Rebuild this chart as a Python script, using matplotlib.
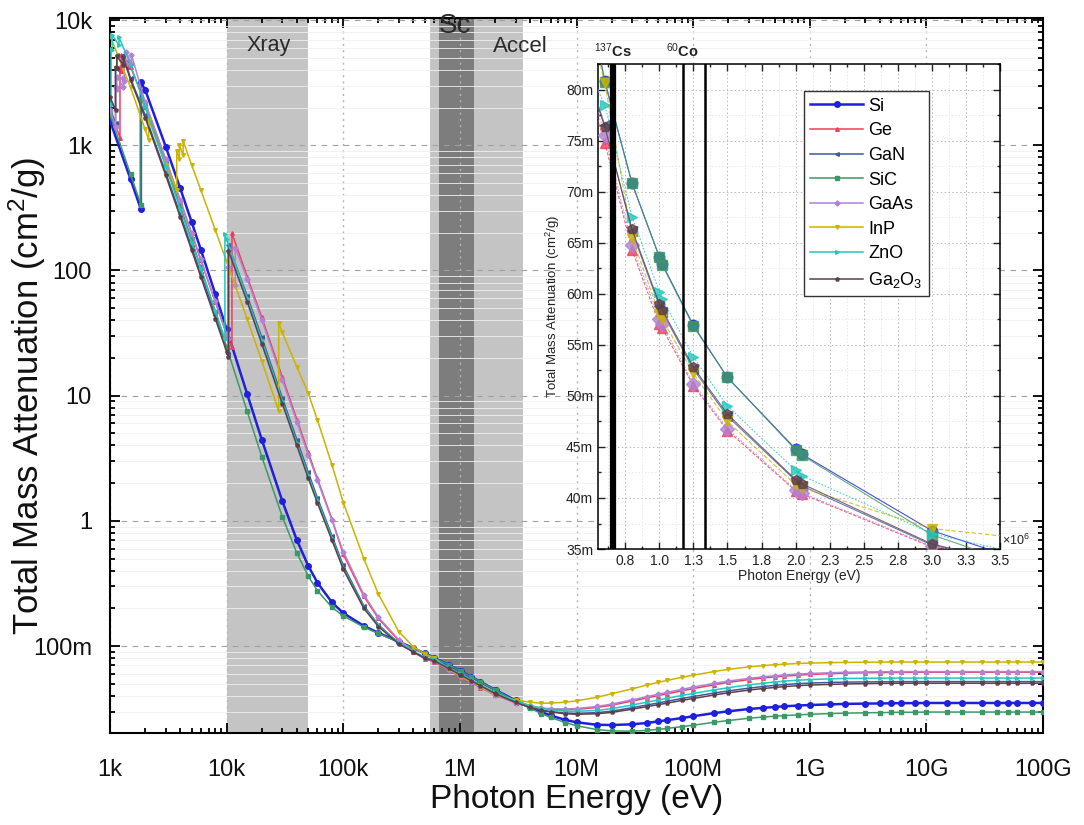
import numpy as np
import matplotlib.pyplot as plt
from matplotlib.ticker import FixedLocator, FixedFormatter, MultipleLocator, NullFormatter
import matplotlib.transforms as mtransforms

plt.rcParams['font.family'] = ['Liberation Sans', 'DejaVu Sans']
plt.rcParams['mathtext.fontset'] = 'custom'
plt.rcParams['mathtext.rm'] = 'Liberation Sans'
plt.rcParams['mathtext.it'] = 'Liberation Sans:italic'
plt.rcParams['mathtext.bf'] = 'Liberation Sans:bold'

# ---- data: total mass attenuation (cm2/g) vs photon energy (eV) ----
# shared grid above 100 keV
E_hi = np.array([1e5, 1.5e5, 2e5, 3e5, 4e5, 5e5, 6e5, 8e5,
                 1e6, 1.022e6, 1.25e6, 1.5e6, 2e6, 2.044e6, 3e6, 4e6, 5e6, 6e6, 8e6,
                 1e7, 1.5e7, 2e7, 3e7, 4e7, 5e7, 6e7, 8e7,
                 1e8, 1.5e8, 2e8, 3e8, 4e8, 5e8, 6e8, 8e8,
                 1e9, 1.5e9, 2e9, 3e9, 4e9, 5e9, 6e9, 8e9,
                 1e10, 1.5e10, 2e10, 3e10, 4e10, 5e10, 6e10, 8e10,
                 1e11])

# low energy part (edges repeated)
E_si_lo = [1000, 1500, 1839, 1839, 2000, 3000, 4000, 5000, 6000, 8000, 10000,
           15000, 20000, 30000, 40000, 50000, 60000, 80000]
mu_si_lo = [1570, 535, 309, 3192, 2777, 978, 453, 245, 147, 64.7, 33.9,
            10.3, 4.46, 1.44, 0.701, 0.439, 0.321, 0.223]
mu_si_hi = [.1835, .1448, .1275, .1082, .0961, .0875, .0808, .0708,
            .0636, .0629, .0569, .0518, .0448, .0443, .0368, .0324, .0297, .0279, .0257,
            .0246, .0235, .0234, .0237, .0243, .0250, .0256, .0266,
            .0275, .0291, .0301, .0314, .0321, .0326, .0330, .0335,
            .0338, .0342, .0345, .0347, .0348, .0349, .0350, .0350,
            .0351, .0351, .0351, .0351, .0351, .0351, .0351, .0351,
            .0351]

E_ge_lo = [1000, 1100, 1217, 1217, 1248, 1248, 1414, 1414, 1500, 2000, 3000, 4000,
           5000, 6000, 8000, 10000, 11103, 11103, 15000, 20000, 30000, 40000,
           50000, 60000, 80000]
mu_ge_lo = [1893, 1500, 1153, 4198, 3922, 5313, 4250, 4750, 4222, 2193, 768, 360,
            198, 121, 56.1, 30.7, 24.5, 198, 89.4, 42.2, 14.1, 6.45,
            3.53, 2.18, 1.03]
mu_ge_hi = [.541, .250, .166, .110, .0892, .0790, .0748, .0643,
            .0570, .0566, .0510, .0466, .0407, .0404, .0352, .0330, .0318, .0313, .0310,
            .0312, .0323, .0337, .0364, .0385, .0402, .0416, .0439,
            .0457, .0490, .0512, .0540, .0556, .0567, .0575, .0586,
            .0593, .0602, .0607, .0612, .0614, .0615, .0616, .0617,
            .0618, .0618, .0618, .0618, .0618, .0618, .0618, .0618,
            .0618]

E_gan_lo = [1000, 1115, 1115, 1143, 1143, 1298, 1298, 1500, 2000, 3000, 4000, 5000,
            6000, 8000, 10000, 10367, 10367, 15000, 20000, 30000, 40000, 50000,
            60000, 80000]
mu_gan_lo = [1967, 1501, 4167, 4065, 5231, 4362, 5278, 3430, 1745, 607, 282, 155,
             94.6, 43.8, 24.0, 21.7, 159, 62.7, 29.3, 9.6, 4.45, 2.45,
             1.53, 0.76]
mu_gan_hi = [.440, .210, .148, .105, .0900, .0805, .0765, .0661,
             .0588, .0582, .0526, .0480, .0417, .0412, .0354, .0324, .0308, .0300, .0292,
             .0290, .0294, .0302, .0322, .0338, .0351, .0362, .0381,
             .0395, .0421, .0438, .0461, .0475, .0485, .0492, .0501,
             .0506, .0512, .0515, .0517, .0518, .0519, .0520, .0520,
             .0520, .0520, .0520, .0520, .0520, .0520, .0520, .0520,
             .0520]

E_sic_lo = E_si_lo
mu_sic_lo = [1762, 585, 336, 2356, 2036, 712, 328, 177, 106, 46.7, 24.4,
             7.48, 3.26, 1.08, 0.553, 0.363, 0.277, 0.204]
mu_sic_hi = [.174, .1417, .1261, .1077, .0959, .0874, .0807, .0708,
             .0636, .0628, .0568, .0518, .0447, .0442, .0364, .0318, .0289, .0269, .0245,
             .0231, .0215, .0210, .0209, .0212, .0216, .0220, .0227,
             .0233, .0246, .0254, .0265, .0271, .0275, .0278, .0282,
             .0285, .0289, .0291, .0293, .0294, .0295, .0296, .0296,
             .0297, .0297, .0297, .0297, .0297, .0297, .0297, .0297,
             .0297]

E_gaas_lo = [1000, 1115, 1115, 1143, 1143, 1298, 1298, 1324, 1324, 1359, 1359, 1527,
             1527, 2000, 3000, 4000, 5000, 6000, 8000, 10000, 10367, 10367, 11867,
             11867, 15000, 20000, 30000, 40000, 50000, 60000, 80000]
mu_gaas_lo = [1917, 1404, 2946, 2809, 3532, 2932, 3462, 3291, 4767, 4472, 5600, 4500,
              5300, 2207, 777, 365, 201, 123, 56.7, 31.1, 28.2, 107.6, 76.7,
              152.6, 85.4, 40.2, 13.4, 6.18, 3.37, 2.11, 1.01]
mu_gaas_hi = [.568, .258, .170, .112, .0905, .0800, .0755, .0648,
              .0575, .0570, .0512, .0468, .0408, .0405, .0353, .0331, .0320, .0316, .0314,
              .0317, .0329, .0344, .0372, .0394, .0412, .0427, .0451,
              .0470, .0503, .0525, .0552, .0568, .0579, .0587, .0598,
              .0604, .0612, .0617, .0621, .0623, .0624, .0625, .0625,
              .0625, .0625, .0625, .0625, .0625, .0625, .0625, .0625,
              .0625]

E_inp_lo = [1000, 1500, 2000, 2146, 2146, 3000, 3730, 3730, 3938, 3938, 4238, 4238,
            5000, 6000, 8000, 10000, 15000, 20000, 27940, 27940, 30000, 40000,
            50000, 60000, 80000]
mu_inp_lo = [7500, 2900, 1340, 1100, 1600, 700, 437, 900, 780, 1000, 830, 1080,
             700, 440, 210, 118, 41, 19, 7.5, 38, 32, 17,
             10.5, 6.4, 2.8]
mu_inp_hi = [1.40, .500, .260, .130, .0985, .0862, .0806, .0655,
             .0580, .0575, .0522, .0475, .0413, .0410, .0370, .0356, .0349, .0350, .0356,
             .0365, .0390, .0416, .0455, .0488, .0512, .0532, .0562,
             .0585, .0625, .0651, .0682, .0698, .0709, .0716, .0726,
             .0731, .0737, .0740, .0743, .0744, .0745, .0745, .0745,
             .0745, .0745, .0745, .0745, .0745, .0745, .0745, .0745,
             .0745]

E_zno_lo = [1000, 1020, 1020, 1043, 1043, 1194, 1194, 1500, 2000, 3000, 4000, 5000,
            6000, 8000, 9659, 9659, 10000, 15000, 20000, 30000, 40000, 50000,
            60000, 80000]
mu_zno_lo = [2150, 2080, 5900, 5750, 7600, 6300, 7300, 4400, 2050, 680, 310, 170,
             104, 47.5, 28.5, 195, 178, 60, 27.8, 9.1, 4.2, 2.33,
             1.46, 0.73]
mu_zno_hi = [.420, .205, .146, .106, .0907, .0813, .0785, .0675,
             .0602, .0595, .0538, .0490, .0427, .0422, .0365, .0335, .0318, .0310, .0302,
             .0301, .0306, .0316, .0338, .0356, .0370, .0383, .0403,
             .0418, .0446, .0465, .0490, .0505, .0516, .0524, .0534,
             .0540, .0547, .0551, .0553, .0554, .0555, .0555, .0555,
             .0555, .0555, .0555, .0555, .0555, .0555, .0555, .0555,
             .0555]

E_ga2o3_lo = E_gan_lo
mu_ga2o3_lo = [2438, 1900, 4244, 4150, 5160, 4400, 5078, 3312, 1667, 577, 267, 146,
               89, 41, 22.4, 20.2, 143, 56.3, 26.0, 8.65, 4.0, 2.2,
               1.39, 0.70]
mu_ga2o3_hi = [.410, .200, .143, .104, .0895, .0803, .0763, .0663,
               .0590, .0584, .0528, .0482, .0418, .0414, .0355, .0323, .0306, .0297, .0288,
               .0285, .0288, .0295, .0313, .0328, .0340, .0350, .0368,
               .0381, .0406, .0423, .0445, .0458, .0467, .0474, .0483,
               .0488, .0494, .0498, .0501, .0503, .0504, .0505, .0505,
               .0505, .0505, .0505, .0505, .0505, .0505, .0505, .0505,
               .0505]

materials = ['Si', 'Ge', 'GaN', 'SiC', 'GaAs', 'InP', 'ZnO', 'Ga$_2$O$_3$']
colors = ['#1f1fe0', '#ee3d5c', '#3d5a9e', '#3c9966', '#b282d6', '#cbb300', '#24c6bd', '#5e3f47']
markers = ['o', '^', '<', 's', 'D', 'v', '>', 'p']
inset_styles = ['-', (0, (3, 1.5)), '-', '-', (0, (1.5, 1.5)), (0, (4, 2)), (0, (1.5, 1.5)), '-']
E_lo_all = [E_si_lo, E_ge_lo, E_gan_lo, E_sic_lo, E_gaas_lo, E_inp_lo, E_zno_lo, E_ga2o3_lo]
mu_lo_all = [mu_si_lo, mu_ge_lo, mu_gan_lo, mu_sic_lo, mu_gaas_lo, mu_inp_lo, mu_zno_lo, mu_ga2o3_lo]
mu_hi_all = [mu_si_hi, mu_ge_hi, mu_gan_hi, mu_sic_hi, mu_gaas_hi, mu_inp_hi, mu_zno_hi, mu_ga2o3_hi]

# energy ranges of the shaded regions (eV)
xray_band = (1e4, 5e4)
accel_band = (5.5e5, 3.5e6)
sc_band = (6.62e5, 1.33e6)

# gamma lines of the sources (MeV)
cs137_line = 0.662
co60_lines = [1.173, 1.332]

x_ticks = [1e3, 1e4, 1e5, 1e6, 1e7, 1e8, 1e9, 1e10, 1e11]
x_ticklabels = ['1k', '10k', '100k', '1M', '10M', '100M', '1G', '10G', '100G']
y_ticks = [0.1, 1, 10, 100, 1e3, 1e4]
y_ticklabels = ['100m', '1', '10', '100', '1k', '10k']

in_x_ticks = [0.75, 1.0, 1.25, 1.5, 1.75, 2.0, 2.25, 2.5, 2.75, 3.0, 3.25, 3.5]
in_x_ticklabels = ['0.8', '1.0', '1.3', '1.5', '1.8', '2.0', '2.3', '2.5', '2.8', '3.0', '3.3', '3.5']
in_y_ticks = [0.035, 0.040, 0.045, 0.050, 0.055, 0.060, 0.065, 0.070, 0.075, 0.080]
in_y_ticklabels = ['35m', '40m', '45m', '50m', '55m', '60m', '65m', '70m', '75m', '80m']

# ---- main axes ----
fig = plt.figure(figsize=(10.84, 8.25), dpi=100)
ax = fig.add_axes([0.1015, 0.1115, 0.8607, 0.8667])
ax.set_xscale('log')
ax.set_yscale('log')
ax.set_xlim(1e3, 1e11)
ax.set_ylim(0.0202, 1.04e4)

ax.axvspan(*xray_band, color='#c4c4c4', lw=0, zorder=0.5)
ax.axvspan(*accel_band, color='#c4c4c4', lw=0, zorder=0.5)
ax.axvspan(*sc_band, color='#7d7d7d', lw=0, zorder=0.6)

ax.grid(which='major', axis='y', ls=(0, (5, 5)), color='#a0a0a0', lw=0.8)
ax.grid(which='major', axis='x', ls=(0, (1.5, 3)), color='#b5b5b5', lw=1.0)
ax.grid(which='minor', axis='y', ls='-', color='#f0f0f0', lw=0.6)

main_lines = []
for name, c, m, Elo, mulo, muhi in zip(materials, colors, markers, E_lo_all, mu_lo_all, mu_hi_all):
    E = np.concatenate([Elo, E_hi])
    mu = np.concatenate([mulo, muhi])
    if name == 'Si':
        ln, = ax.plot(E, mu, color=c, lw=1.8, marker=m, ms=4, label=name, zorder=3)
    else:
        ln, = ax.plot(E, mu, color=c, lw=1.1, marker=m, ms=2.6, label=name, zorder=3)
    main_lines.append(ln)

ax.text(2.27e4, 6300, 'Xray', ha='center', va='center', fontsize=15.5, color='#2a2a2a')
ax.text(9.1e5, 8900, 'Sc', ha='center', va='center', fontsize=20, color='#2a2a2a')
ax.text(3.3e6, 6100, 'Accel', ha='center', va='center', fontsize=16, color='#2a2a2a')

ax.xaxis.set_major_locator(FixedLocator(x_ticks))
ax.xaxis.set_major_formatter(FixedFormatter(x_ticklabels))
ax.yaxis.set_major_locator(FixedLocator(y_ticks))
ax.yaxis.set_major_formatter(FixedFormatter(y_ticklabels))
ax.xaxis.set_minor_formatter(NullFormatter())
ax.yaxis.set_minor_formatter(NullFormatter())
ax.tick_params(which='both', direction='in', top=True, right=True, width=1.4, colors='#111111')
ax.tick_params(which='major', length=7)
ax.tick_params(which='minor', length=3.5)
ax.tick_params(axis='x', which='major', labelsize=17, pad=19)
ax.tick_params(axis='y', which='major', labelsize=17, pad=13)
for s in ax.spines.values():
    s.set_linewidth(1.5)

ax.set_xlabel('Photon Energy (eV)', fontsize=24, color='#111111')
ax.set_ylabel('Total Mass Attenuation (cm$^2$/g)', fontsize=25, color='#111111')
ax.xaxis.set_label_coords(0.5, -0.071)
ax.yaxis.set_label_coords(-0.067, 0.471)

# ---- inset: 0.55 - 3.5 MeV ----
axin = fig.add_axes([0.5517, 0.3345, 0.3708, 0.5879])
axin.set_xlim(0.55, 3.5)
axin.set_ylim(0.035, 0.0825)
axin.grid(which='major', ls=(0, (1.5, 2.5)), color='#b8b8b8', lw=0.7)
axin.grid(which='minor', ls=(0, (1.5, 2.5)), color='#e2e2e2', lw=0.6)

sel = (E_hi >= 0.5e6) & (E_hi <= 4e6)
for name, c, m, ls, muhi in zip(materials, colors, markers, inset_styles, mu_hi_all):
    axin.plot(E_hi[sel] / 1e6, np.array(muhi)[sel], color=c, lw=0.8, ls=ls, marker=m, ms=7.5,
              alpha=0.8, zorder=3)

axin.axvline(cs137_line, color='black', lw=4.5, zorder=4)
for e in co60_lines:
    axin.axvline(e, color='black', lw=1.8, zorder=4)

top_tr = mtransforms.blended_transform_factory(axin.transData, axin.transAxes)
axin.text(cs137_line, 1.008, '$^{137}$Cs', transform=top_tr, ha='center', va='bottom',
          fontsize=10.5, fontweight='bold', color='#222222')
axin.text(co60_lines[0], 1.008, '$^{60}$Co', transform=top_tr, ha='center', va='bottom',
          fontsize=10.5, fontweight='bold', color='#222222')
axin.text(1.005, 0.018, r'$\times$10$^6$', transform=axin.transAxes, ha='left',
          va='center', fontsize=9, color='#222222')

axin.xaxis.set_major_locator(FixedLocator(in_x_ticks))
axin.xaxis.set_major_formatter(FixedFormatter(in_x_ticklabels))
axin.xaxis.set_minor_locator(MultipleLocator(0.125))
axin.yaxis.set_major_locator(FixedLocator(in_y_ticks))
axin.yaxis.set_major_formatter(FixedFormatter(in_y_ticklabels))
axin.yaxis.set_minor_locator(MultipleLocator(0.0025))
axin.tick_params(which='both', direction='in', top=True, right=True, width=1.0,
                 colors='#222222', labelsize=10)
axin.tick_params(which='major', length=5)
axin.tick_params(which='minor', length=2.5)
for s in axin.spines.values():
    s.set_linewidth(1.1)
axin.set_xlabel('Photon Energy (eV)', fontsize=10, labelpad=1, color='#222222')
axin.set_ylabel('Total Mass Attenuation (cm$^2$/g)', fontsize=9.5, labelpad=3, color='#222222')

leg = axin.legend(handles=main_lines, loc='upper left', bbox_to_anchor=(0.49, 0.962),
                  fontsize=13, frameon=True, fancybox=False, framealpha=1,
                  edgecolor='#333333', handlelength=2.9, handletextpad=0.3,
                  labelspacing=0.42, borderpad=0.35, numpoints=1)
leg.get_frame().set_linewidth(1.0)

fig.savefig('out.png', dpi=100)
